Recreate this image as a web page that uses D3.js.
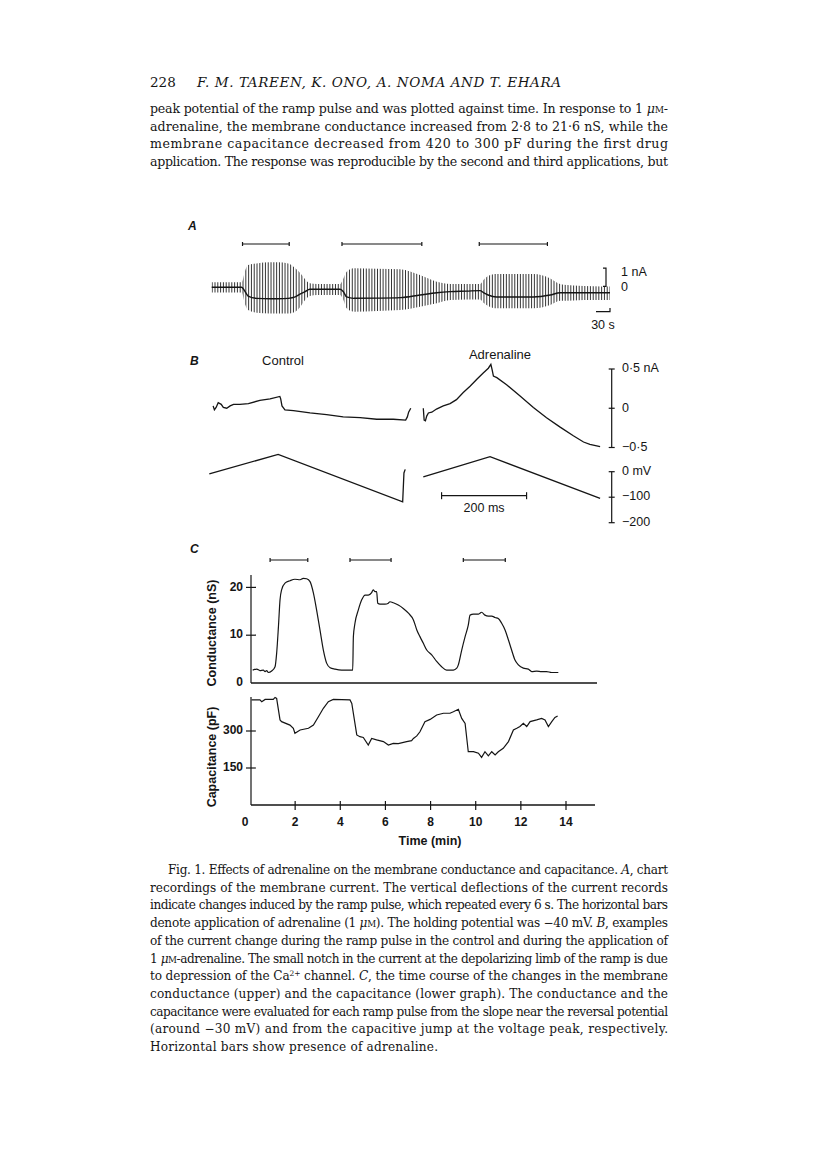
<!DOCTYPE html>
<html>
<head>
<meta charset="utf-8">
<script src="https://cdn.jsdelivr.net/npm/d3@7/dist/d3.min.js"></script>
<style>
  body { margin: 0; background: #fff; }
  svg { display: block; }
</style>
</head>
<body>
<svg id="page"></svg>
<script>
// ---------- data ----------

// panel A: chart recording, envelope of the ramp-pulse deflections (s, nA)
const aTime  = [0, 64, 72, 78, 96, 125, 142, 164, 179, 190, 200, 210, 225, 275, 282, 289, 304, 354, 404, 446, 482, 511, 546, 575, 582, 592, 610, 647, 689, 725, 746, 775, 818, 853];
const aUpper = [0.29, 0.29, 0.99, 1.27, 1.36, 1.43, 1.43, 1.36, 1.09, 0.80, 0.46, 0.23, 0.19, 0.19, 0.51, 0.89, 1.09, 1.06, 1.03, 0.70, 0.32, 0.19, 0.19, 0.19, 0.42, 0.65, 0.76, 0.76, 0.76, 0.51, 0.19, 0.10, 0.06, 0.04];
const aLower = [-0.29, -0.29, -1.01, -1.30, -1.45, -1.49, -1.49, -1.49, -1.39, -1.11, -0.73, -0.50, -0.44, -0.44, -0.73, -1.20, -1.39, -1.35, -1.30, -1.11, -0.91, -0.73, -0.69, -0.69, -0.88, -1.07, -1.20, -1.20, -1.20, -1.01, -0.77, -0.75, -0.73, -0.73];
const aHold  = [0, 0, -0.27, -0.50, -0.63, -0.65, -0.65, -0.63, -0.55, -0.38, -0.25, -0.11, -0.11, -0.11, -0.25, -0.55, -0.63, -0.62, -0.59, -0.44, -0.31, -0.25, -0.22, -0.19, -0.31, -0.44, -0.55, -0.55, -0.55, -0.44, -0.31, -0.31, -0.31, -0.31];
const aBars = [[66, 166], [279, 450], [573, 719]];   // adrenaline, s
const pulseEvery = 6;                                  // s

// panel B: single ramp sweeps (ms, nA / mV)
const ctrlI = [[9, 0.03], [12, -0.02], [16, 0.01], [21, 0.07], [28, 0.05], [33, 0.01], [41, 0], [49, 0.03], [57, 0.05], [72, 0.05], [92, 0.06], [119, 0.10], [143, 0.12], [166, 0.15], [168, 0.12], [171, 0.03], [178, -0.02], [198, -0.03], [237, -0.06], [276, -0.08], [315, -0.11], [355, -0.12], [394, -0.14], [433, -0.14], [462, -0.15], [466, -0.11], [469, -0.05], [474, 0]];
const ctrlV = [[0, -9], [162, 68], [455, -118], [458, -5], [461, 9]];
const adrI  = [[0, 0], [2, -0.15], [5, -0.16], [8, -0.10], [12, -0.06], [20, -0.05], [31, -0.01], [47, 0.03], [63, 0.06], [78, 0.11], [94, 0.20], [110, 0.28], [126, 0.37], [141, 0.45], [153, 0.51], [159, 0.56], [162, 0.49], [165, 0.41], [173, 0.39], [196, 0.30], [227, 0.16], [259, 0.01], [290, -0.12], [322, -0.24], [353, -0.35], [377, -0.43], [392, -0.46], [416, -0.49]];
const adrV  = [[0, -20], [157, 59], [416, -105]];

// panel C: conductance (nS) and capacitance (pF) vs time (min)
const gTime = [0.12, 0.30, 0.44, 0.59, 0.67, 0.74, 0.81, 0.96, 1.11, 1.18, 1.26, 1.33, 1.40, 1.55, 1.77, 1.99, 2.22, 2.36, 2.51, 2.66, 2.81, 2.95, 3.10, 3.25, 3.40, 3.55, 3.77, 4.06, 4.55, 4.58, 4.65, 4.80, 4.95, 5.10, 5.24, 5.39, 5.46, 5.54, 5.61, 5.66, 5.76, 5.98, 6.13, 6.20, 6.35, 6.57, 6.79, 7.02, 7.24, 7.39, 7.53, 7.68, 7.83, 8.05, 8.27, 8.49, 8.71, 9.01, 9.16, 9.23, 9.38, 9.53, 9.67, 9.75, 9.90, 10.12, 10.19, 10.26, 10.41, 10.56, 10.71, 10.86, 11.00, 11.15, 11.30, 11.45, 11.59, 11.74, 11.89, 12.11, 12.33, 12.48, 12.70, 12.92, 13.14, 13.36, 13.66];
const gVal  = [2.7, 2.9, 2.6, 2.7, 2.4, 2.6, 2.2, 2.5, 3.4, 6.2, 11.8, 17.4, 19.5, 20.9, 21.4, 21.7, 21.6, 21.9, 21.8, 21.2, 18.8, 15.3, 11.1, 6.9, 4.1, 3.2, 2.9, 2.7, 2.7, 9.7, 12.5, 15.3, 17.4, 18.4, 18.4, 18.9, 19.5, 19.1, 19.1, 16.7, 16.5, 16.5, 16.7, 17.0, 16.8, 16.3, 15.6, 14.6, 13.2, 11.1, 9.7, 8.3, 6.9, 5.9, 4.5, 3.4, 2.7, 2.7, 3.1, 3.8, 6.9, 9.7, 12.1, 14.2, 14.4, 14.4, 14.6, 14.8, 14.2, 14.0, 14.0, 13.7, 13.5, 12.5, 11.1, 9.0, 6.9, 4.8, 3.8, 3.1, 2.9, 2.4, 2.5, 2.4, 2.4, 2.2, 2.2];
const cTime = [0.07, 0.44, 0.52, 0.67, 1.03, 1.11, 1.18, 1.33, 1.40, 1.77, 1.92, 1.99, 2.22, 2.59, 2.81, 3.03, 3.25, 3.47, 3.69, 4.43, 4.51, 4.73, 4.87, 5.02, 5.24, 5.39, 5.61, 5.91, 6.13, 6.35, 6.57, 6.94, 7.16, 7.24, 7.39, 7.53, 7.75, 7.98, 8.27, 8.57, 8.86, 9.01, 9.23, 9.38, 9.53, 9.67, 9.90, 10.12, 10.26, 10.41, 10.56, 10.71, 10.86, 11.00, 11.22, 11.45, 11.67, 11.82, 11.96, 12.11, 12.26, 12.41, 12.70, 12.92, 13.07, 13.22, 13.37, 13.51, 13.63];
const cVal  = [426, 426, 419, 428, 428, 436, 432, 345, 338, 324, 311, 291, 304, 311, 324, 358, 392, 419, 428, 426, 412, 284, 277, 274, 243, 270, 264, 257, 243, 250, 249, 257, 261, 270, 280, 297, 338, 347, 365, 372, 372, 378, 388, 351, 331, 216, 216, 210, 193, 216, 199, 216, 203, 216, 230, 257, 304, 311, 318, 331, 318, 338, 345, 351, 345, 318, 338, 355, 361];
const cBars = [[0.89, 2.56], [4.43, 6.25], [9.45, 11.31]];  // adrenaline, min

const gTicks = [0, 10, 20];
const cTicks = [150, 300];
const tTicks = [0, 2, 4, 6, 8, 10, 12, 14];

// ---------- text ----------
const headLines = [
  ["peak potential of the ramp pulse and was plotted against time. In response to 1 ", ["\u03bc", "i"], ["M", "sc"], "-"],
  ["adrenaline, the membrane conductance increased from 2\u00b78 to 21\u00b76 nS, while the"],
  ["membrane capacitance decreased from 420 to 300 pF during the first drug"],
  ["application. The response was reproducible by the second and third applications, but"]
];
const captionLines = [
  ["Fig. 1. Effects of adrenaline on the membrane conductance and capacitance. ", ["A", "i"], ", chart"],
  ["recordings of the membrane current. The vertical deflections of the current records"],
  ["indicate changes induced by the ramp pulse, which repeated every 6 s. The horizontal bars"],
  ["denote application of adrenaline (1 ", ["\u03bc", "i"], ["M", "sc"], "). The holding potential was \u221240 mV. ", ["B", "i"], ", examples"],
  ["of the current change during the ramp pulse in the control and during the application of"],
  ["1 ", ["\u03bc", "i"], ["M", "sc"], "-adrenaline. The small notch in the current at the depolarizing limb of the ramp is due"],
  ["to depression of the Ca", ["2+", "sup"], " channel. ", ["C", "i"], ", the time course of the changes in the membrane"],
  ["conductance (upper) and the capacitance (lower graph). The conductance and the"],
  ["capacitance were evaluated for each ramp pulse from the slope near the reversal potential"],
  ["(around \u221230 mV) and from the capacitive jump at the voltage peak, respectively."],
  ["Horizontal bars show presence of adrenaline."]
];

// ---------- page ----------
const W = 816, H = 1160;
const ink = "#151515";
const serif = "'DejaVu Serif', 'Liberation Serif', serif";
const sans = "'Liberation Sans', Arial, sans-serif";

const svg = d3.select("#page").attr("width", W).attr("height", H);
svg.append("rect").attr("width", W).attr("height", H).attr("fill", "#fff");

function richText(g, parts, x, y, size, width) {
  const t = g.append("text")
    .attr("x", x).attr("y", y)
    .attr("font-family", serif).attr("font-size", size)
    .attr("fill", ink);
  parts.forEach(function (p) {
    if (typeof p === "string") {
      t.append("tspan").text(p);
    } else if (p[1] === "i") {
      t.append("tspan").attr("font-style", "italic").text(p[0]);
    } else if (p[1] === "sc") {
      t.append("tspan").attr("font-size", size * 0.72).text(p[0]);
    } else if (p[1] === "sup") {
      t.append("tspan").attr("font-size", size * 0.62).attr("baseline-shift", "super").text(p[0]);
    }
  });
  if (width) t.attr("textLength", width).attr("lengthAdjust", "spacing");
  return t;
}

// running head
svg.append("text").attr("x", 150).attr("y", 87)
  .attr("font-family", serif).attr("font-size", 13.5).attr("fill", ink)
  .text("228");
svg.append("text").attr("x", 197).attr("y", 87)
  .attr("font-family", serif).attr("font-size", 13.5).attr("font-style", "italic")
  .attr("fill", ink).attr("textLength", 364).attr("lengthAdjust", "spacing")
  .text("F. M. TAREEN, K. ONO, A. NOMA AND T. EHARA");

const body = svg.append("g");
headLines.forEach(function (l, i) {
  richText(body, l, 150, 113 + i * 17.7, 12.6, 518);
});

const cap = svg.append("g");
captionLines.forEach(function (l, i) {
  const x = i === 0 ? 168 : 150;
  const last = i === captionLines.length - 1;
  richText(cap, l, x, 874 + i * 17.7, 12.1, last ? 288 : 668 - x);
});

function label(g, txt, x, y, opts) {
  opts = opts || {};
  return g.append("text").attr("x", x).attr("y", y)
    .attr("font-family", sans).attr("font-size", opts.size || 12.5)
    .attr("font-weight", opts.weight || "normal")
    .attr("font-style", opts.style || "normal")
    .attr("text-anchor", opts.anchor || "start")
    .attr("dominant-baseline", "middle")
    .attr("fill", ink).text(txt);
}

function hbar(g, x0, x1, y, tick) {
  g.append("line").attr("x1", x0).attr("x2", x1).attr("y1", y).attr("y2", y);
  g.append("line").attr("x1", x0).attr("x2", x0).attr("y1", y - tick).attr("y2", y + tick);
  g.append("line").attr("x1", x1).attr("x2", x1).attr("y1", y - tick).attr("y2", y + tick);
}

// ---------- panel A ----------
const gA = svg.append("g").attr("stroke", ink).attr("fill", "none");
const xA = d3.scaleLinear().domain([0, 853]).range([211.7, 610]);
const yA = d3.scaleLinear().domain([0, 1]).range([287.3, 269.8]);
const aRows = aTime.map(function (t, i) { return { t: t, up: aUpper[i], lo: aLower[i], hold: aHold[i] }; });

label(svg, "A", 188, 227, { style: "italic", weight: "bold", size: 12 });

aBars.forEach(function (b) { hbar(gA.append("g").attr("stroke-width", 1.2), xA(b[0]), xA(b[1]), 244, 2); });

const envelope = d3.area()
  .x(function (d) { return xA(d.t); })
  .y0(function (d) { return yA(d.lo); })
  .y1(function (d) { return yA(d.up); })
  .curve(d3.curveMonotoneX);
svg.append("clipPath").attr("id", "envA")
  .append("path").attr("d", envelope(aRows));

gA.append("g").attr("clip-path", "url(#envA)")
  .attr("stroke", "#2a2a2a").attr("stroke-width", 0.95)
  .selectAll("line")
  .data(d3.range(0, 853, pulseEvery))
  .join("line")
  .attr("x1", function (t) { return xA(t) + 0.5; })
  .attr("x2", function (t) { return xA(t) + 0.5; })
  .attr("y1", yA(2)).attr("y2", yA(-2));

gA.append("path")
  .attr("d", d3.line()
    .x(function (d) { return xA(d.t); })
    .y(function (d) { return yA(d.hold); })
    .curve(d3.curveMonotoneX)(aRows))
  .attr("stroke-width", 1.4);

// scale bars A
const sbA = gA.append("g").attr("stroke-width", 1.2);
sbA.append("path").attr("d", "M" + 603 + "," + yA(1.1) + "H606V" + yA(0.05) + "H603");
label(svg, "1 nA", 621, yA(0.85));
label(svg, "0", 621, yA(-0.05));
sbA.append("path").attr("d", "M" + xA(823) + "," + 311.7 + "H" + xA(853) + "V" + 308);
label(svg, "30 s", xA(838), 326, { anchor: "middle" });

// ---------- panel B ----------
const gB = svg.append("g").attr("stroke", ink).attr("fill", "none").attr("stroke-width", 1.3);
const msPx = 0.425;
const xCtrl = d3.scaleLinear().domain([0, 100]).range([209.3, 209.3 + 100 * msPx]);
const xAdr = d3.scaleLinear().domain([0, 100]).range([423.3, 423.3 + 100 * msPx]);
const yI = d3.scaleLinear().domain([-0.5, 0.5]).range([447.5, 369]);
const yV = d3.scaleLinear().domain([-200, 0]).range([522.7, 471.7]);

label(svg, "B", 190, 362, { style: "italic", weight: "bold", size: 12 });
label(svg, "Control", 283, 362, { anchor: "middle", size: 13 });
label(svg, "Adrenaline", 500, 356, { anchor: "middle", size: 13 });

function trace(sx, sy, pts) {
  gB.append("path").attr("d", d3.line()
    .x(function (d) { return sx(d[0]); })
    .y(function (d) { return sy(d[1]); })
    .curve(d3.curveLinear)(pts));
}
trace(xCtrl, yI, ctrlI);
trace(xCtrl, yV, ctrlV);
trace(xAdr, yI, adrI);
trace(xAdr, yV, adrV);

// scale bars B
const sbB = gB.append("g").attr("stroke-width", 1.2);
sbB.append("line").attr("x1", 611.7).attr("x2", 611.7).attr("y1", yI(0.5)).attr("y2", yI(-0.5));
[0.5, 0, -0.5].forEach(function (v) {
  sbB.append("line").attr("x1", 608.7).attr("x2", 614.7).attr("y1", yI(v)).attr("y2", yI(v));
});
label(svg, "0\u00b75 nA", 622, yI(0.5));
label(svg, "0", 622, yI(0));
label(svg, "\u22120\u00b75", 622, yI(-0.5));

sbB.append("line").attr("x1", 611.7).attr("x2", 611.7).attr("y1", yV(0)).attr("y2", yV(-200));
[0, -100, -200].forEach(function (v) {
  sbB.append("line").attr("x1", 608.7).attr("x2", 614.7).attr("y1", yV(v)).attr("y2", yV(v));
});
label(svg, "0 mV", 622, yV(0));
label(svg, "\u2212100", 622, yV(-100));
label(svg, "\u2212200", 622, yV(-200));

hbar(sbB, xAdr(43), xAdr(243), 495.7, 3.5);
label(svg, "200 ms", xAdr(143), 509, { anchor: "middle" });

// ---------- panel C ----------
const gC = svg.append("g").attr("stroke", ink).attr("fill", "none");
const xC = d3.scaleLinear().domain([0, 14]).range([250, 566]);
const yG = d3.scaleLinear().domain([0, 20]).range([683, 587.4]);
const yCap = d3.scaleLinear().domain([0, 300]).range([805, 731]);

label(svg, "C", 190, 550, { style: "italic", weight: "bold", size: 12 });
cBars.forEach(function (b) { hbar(gC.append("g").attr("stroke-width", 1.2), xC(b[0]), xC(b[1]), 560, 2); });

// conductance axes
gC.append("line").attr("x1", 251).attr("x2", 251).attr("y1", 575).attr("y2", yG(0)).attr("stroke-width", 1.2);
gC.append("line").attr("x1", 251).attr("x2", 597).attr("y1", yG(0)).attr("y2", yG(0)).attr("stroke-width", 1.3);
gTicks.forEach(function (v) {
  if (v > 0) gC.append("line").attr("x1", 246).attr("x2", 256).attr("y1", yG(v)).attr("y2", yG(v)).attr("stroke-width", 1.2);
  label(svg, String(v), 243, yG(v), { anchor: "end", weight: "bold", size: 12 });
});
svg.append("text")
  .attr("transform", "translate(216," + 633 + ") rotate(-90)")
  .attr("text-anchor", "middle").attr("font-family", sans).attr("font-size", 12.5)
  .attr("font-weight", "bold").attr("fill", ink)
  .text("Conductance (nS)");

gC.append("path")
  .attr("d", d3.line()
    .x(function (d, i) { return xC(gTime[i]); })
    .y(function (d) { return yG(d); })
    .curve(d3.curveMonotoneX)(gVal))
  .attr("stroke-width", 1.2);

// capacitance axes
gC.append("line").attr("x1", 251).attr("x2", 251).attr("y1", 697).attr("y2", yCap(0)).attr("stroke-width", 1.2);
gC.append("line").attr("x1", 251).attr("x2", 595).attr("y1", yCap(0)).attr("y2", yCap(0)).attr("stroke-width", 1.3);
cTicks.forEach(function (v) {
  gC.append("line").attr("x1", 246).attr("x2", 256).attr("y1", yCap(v)).attr("y2", yCap(v)).attr("stroke-width", 1.2);
  label(svg, String(v), 243, yCap(v), { anchor: "end", weight: "bold", size: 12 });
});
tTicks.forEach(function (v) {
  if (v > 0) gC.append("line").attr("x1", xC(v)).attr("x2", xC(v)).attr("y1", yCap(0) - 4).attr("y2", yCap(0) + 5).attr("stroke-width", 1.2);
  label(svg, String(v), v === 0 ? xC(v) - 5 : xC(v), 823, { anchor: "middle", weight: "bold", size: 12 });
});
label(svg, "Time (min)", 430, 842, { anchor: "middle", weight: "bold", size: 12.5 });
svg.append("text")
  .attr("transform", "translate(216," + 757 + ") rotate(-90)")
  .attr("text-anchor", "middle").attr("font-family", sans).attr("font-size", 12.5)
  .attr("font-weight", "bold").attr("fill", ink)
  .text("Capacitance (pF)");

gC.append("path")
  .attr("d", d3.line()
    .x(function (d, i) { return xC(cTime[i]); })
    .y(function (d) { return yCap(d); })
    .curve(d3.curveLinear)(cVal))
  .attr("stroke-width", 1.2);
</script>
</body>
</html>
